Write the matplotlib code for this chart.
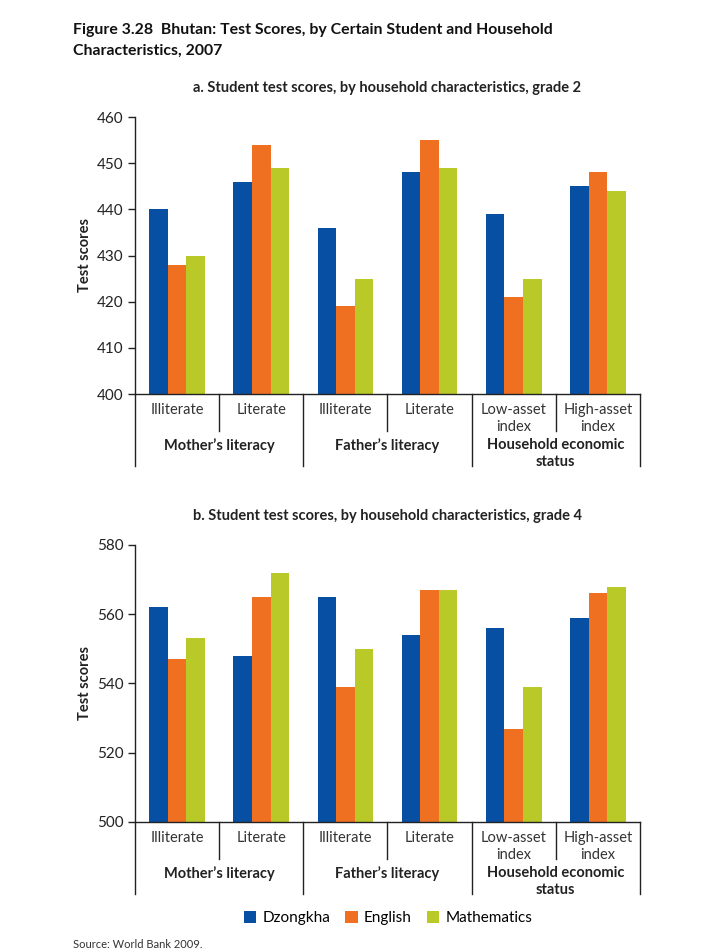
import matplotlib
matplotlib.use("Agg")
import matplotlib.pyplot as plt
import matplotlib.transforms as mtransforms
import numpy as np

plt.rcParams["font.family"] = ["Lato", "DejaVu Sans"]

# data
categories = ["Illiterate", "Literate", "Illiterate", "Literate", "Low-asset\nindex", "High-asset\nindex"]
groups = ["Mother\u2019s literacy", "Father\u2019s literacy", "Household economic\nstatus"]
series = ["Dzongkha", "English", "Mathematics"]
colors = ["#064FA2", "#F07022", "#B9C927"]

grade2_dzongkha = [440, 446, 436, 448, 439, 445]
grade2_english = [428, 454, 419, 455, 421, 448]
grade2_math = [430, 449, 425, 449, 425, 444]

grade4_dzongkha = [562, 548, 565, 554, 556, 559]
grade4_english = [547, 565, 539, 567, 527, 566]
grade4_math = [553, 572, 550, 567, 539, 568]

W, H = 712, 952
fig = plt.figure(figsize=(W / 100, H / 100), dpi=100)


def panel(rect, data, ylim, yticks, subtitle):
    ax = fig.add_axes(rect)
    x = np.arange(len(categories))
    bw = 0.22
    for i, (vals, c) in enumerate(zip(data, colors)):
        ax.bar(x + (i - 1) * bw, np.array(vals) - ylim[0], bw, bottom=ylim[0],
               color=c, label=series[i], linewidth=0)
    ax.set_xlim(-0.5, len(categories) - 0.5)
    ax.set_ylim(*ylim)
    ax.set_yticks(yticks)
    ax.tick_params(axis="y", labelsize=11, length=5, width=1, pad=3,
                   color="#222222", labelcolor="#222222")
    ax.set_xticks([])
    for s in ["top", "right"]:
        ax.spines[s].set_visible(False)
    for s in ["left", "bottom"]:
        ax.spines[s].set_linewidth(1)
        ax.spines[s].set_color("#222222")
    ax.set_ylabel("Test scores", fontsize=10.5, fontweight="bold", color="#222222", labelpad=4)

    axh = rect[3] * H
    trans = mtransforms.blended_transform_factory(ax.transData, ax.transAxes)
    # category labels
    for xi, lab in zip(x, categories):
        ax.text(xi, -9 / axh, lab, transform=trans, ha="center", va="top",
                fontsize=10.5, color="#333333", linespacing=1.3)
    # group labels
    for gi, g in enumerate(groups):
        ax.text(2 * gi + 0.5, -44 / axh, g, transform=trans, ha="center", va="top",
                fontsize=10.5, fontweight="bold", color="#222222", linespacing=1.3)
    # separators
    for b in [-0.5, 1.5, 3.5, 5.5]:
        ax.plot([b, b], [0, -72 / axh], transform=trans, color="#222222", lw=1, clip_on=False)
    for b in [0.5, 2.5, 4.5]:
        ax.plot([b, b], [0, -37 / axh], transform=trans, color="#222222", lw=1, clip_on=False)
    fig.text(rect[0] + rect[2] / 2, rect[1] + rect[3] + 29 / H, subtitle,
             ha="center", va="center", fontsize=10.5, fontweight="bold", color="#222222")
    return ax


left, width = 135 / W, 505 / W
ax1 = panel([left, 1 - 394 / H, width, 277 / H],
            [grade2_dzongkha, grade2_english, grade2_math],
            (400, 460), np.arange(400, 461, 10),
            "a. Student test scores, by household characteristics, grade 2")
ax2 = panel([left, 1 - 822 / H, width, 277 / H],
            [grade4_dzongkha, grade4_english, grade4_math],
            (500, 580), np.arange(500, 581, 20),
            "b. Student test scores, by household characteristics, grade 4")

fig.text(73 / W, 1 - 30 / H, "Figure 3.28  Bhutan: Test Scores, by Certain Student and Household",
         ha="left", va="center", fontsize=11.4, fontweight="bold", color="#111111")
fig.text(73 / W, 1 - 51 / H, "Characteristics, 2007",
         ha="left", va="center", fontsize=11.4, fontweight="bold", color="#111111")

handles, labels = ax2.get_legend_handles_labels()
fig.legend(handles, labels, loc="center", bbox_to_anchor=(388 / W, 1 - 918 / H), ncol=3,
           frameon=False, fontsize=11, handlelength=0.8, handleheight=0.8,
           handletextpad=0.4, columnspacing=1.0)

fig.text(73 / W, 1 - 939 / H, "Source: World Bank 2009.", ha="left", va="top",
         fontsize=8, color="#333333")

fig.savefig("out.png", dpi=100)
